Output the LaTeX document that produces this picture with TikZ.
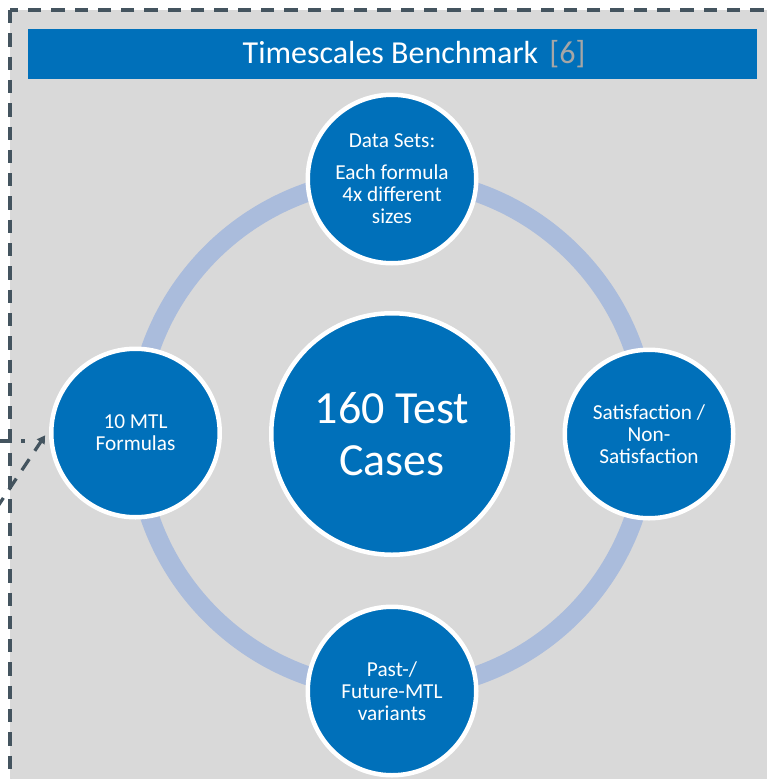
\documentclass[tikz,border=0pt]{standalone}
\usepackage{fontspec}
\setmainfont{Carlito}
\usetikzlibrary{arrows.meta}
\definecolor{tsblue}{HTML}{0070BA}
\definecolor{tsring}{HTML}{AABCDC}
\definecolor{tsgray}{HTML}{D9D9D9}
\definecolor{tsline}{HTML}{44545F}
\definecolor{tsref}{HTML}{A6A6A6}
\tikzset{
  panel/.style={fill=tsgray, draw=tsline, line width=3.3pt, dash pattern=on 13.3pt off 10pt},
  linkline/.style={draw=tsline, line width=3.3pt, dash pattern=on 13.3pt off 10pt},
  titlebar/.style={fill=tsblue, draw=none},
  satellite/.style={circle, fill=tsblue, draw=white, line width=4.5pt, minimum size=168.5pt,
    inner sep=0pt, text=white, align=center, font=\fontsize{21.3}{22}\selectfont},
  hub/.style={circle, fill=tsblue, draw=white, line width=4.5pt, minimum size=241.5pt,
    inner sep=0pt, text=white, align=center, font=\fontsize{46}{52}\selectfont},
  cycle/.style={draw=tsring, line width=19pt}
}
\begin{document}
\begin{tikzpicture}[x=1pt, y=-1pt]
  \useasboundingbox (0,0) rectangle (767,779);
  \clip (0,0) rectangle (767,779);
  % grey panel with dashed frame
  \path[panel] (10,10) rectangle (800,820);
  % title bar
  \path[titlebar] (28,29) rectangle (757,79);
  \node[text=white, font=\fontsize{32}{36}\selectfont, anchor=base] (title) at (414,63)
    {Timescales Benchmark\hspace{0.35em}\textcolor{tsref}{[6]}};
  % ring linking the four satellites
  \draw[cycle] (392,434) circle[radius=256];
  % hub and satellites
  \node[hub] (hub) at (392,434) {160 Test\\Cases};
  \node[satellite] (data) at (392,179) {Data Sets:\\[10pt]Each formula\\4x different\\sizes};
  \node[satellite] (mtl) at (135.5,433) {10 MTL\\Formulas};
  \node[satellite] (sat) at (649,434) {Satisfaction /\\Non-\\Satisfaction};
  \node[satellite] (past) at (392,691) {Past-/\\Future-MTL\\variants};
  % dashed links arriving from the left
  \coordinate (inA) at (-2,441);
  \coordinate (inAend) at (25,441);
  \coordinate (inB) at (-4,509);
  \coordinate (inBend) at (44,437);
  \draw[linkline] (inA) -- (inAend);
  \draw[linkline, -{Triangle[length=8pt, width=9pt]}, shorten >=-2pt] (inB) -- (inBend);
\end{tikzpicture}
\end{document}
